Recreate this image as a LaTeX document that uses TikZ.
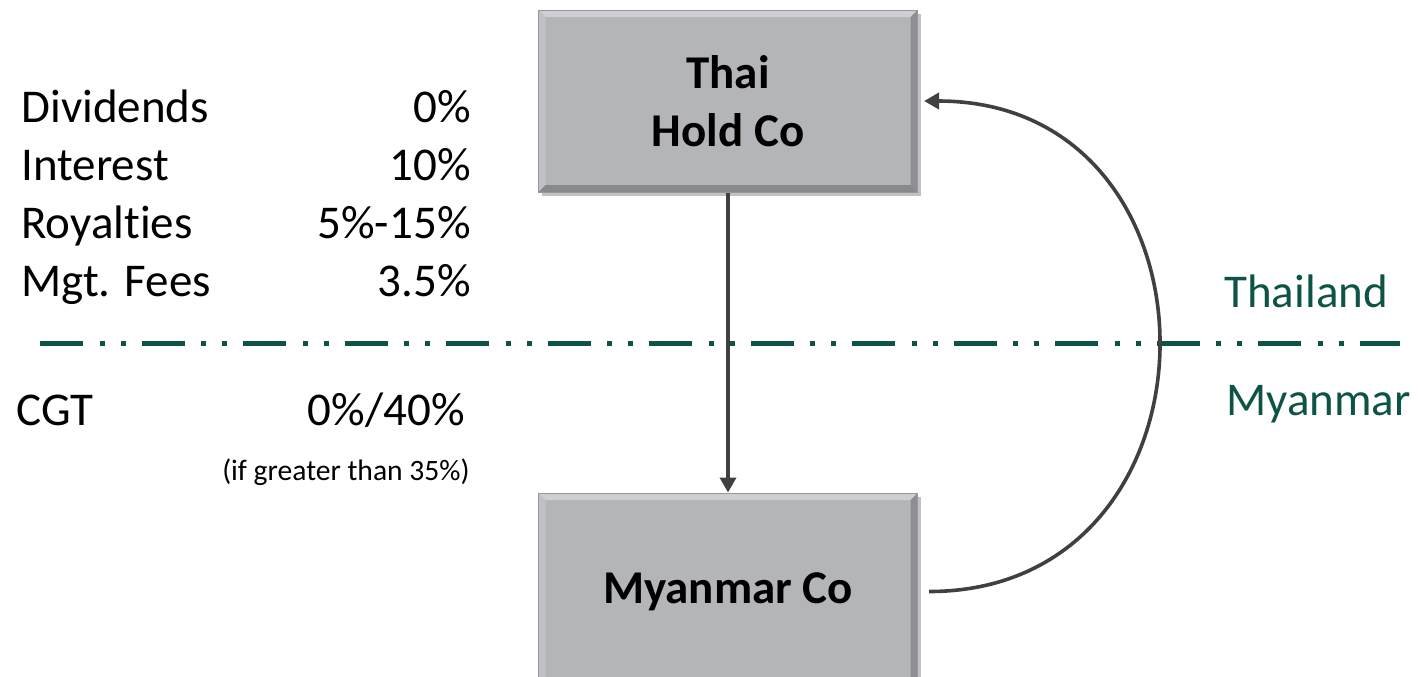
\documentclass[tikz,border=0pt]{standalone}
\usepackage{fontspec}
\setmainfont{Carlito}[Ligatures=CommonOff]
\usetikzlibrary{arrows.meta,calc,shadows}
\definecolor{boxfill}{RGB}{180,181,185}
\definecolor{boxedge}{RGB}{150,151,155}
\definecolor{bevtop}{RGB}{206,207,210}
\definecolor{bevleft}{RGB}{192,193,196}
\definecolor{bevright}{RGB}{142,143,147}
\definecolor{bevbot}{RGB}{136,137,141}
\definecolor{linegray}{RGB}{64,64,64}
\definecolor{bordergreen}{RGB}{13,84,70}
\begin{document}
\begin{tikzpicture}[x=0.5pt,y=-0.5pt,
  bevelbox/.style={minimum width=189.5pt, minimum height=91pt, inner sep=0pt,
    fill=boxfill, draw=boxedge, line width=0.5pt,
    drop shadow={shadow xshift=1.5pt, shadow yshift=-2pt, opacity=0.35, fill=black!70},
    font=\bfseries\fontsize{23.5}{29}\selectfont, align=center,
    path picture={
      \coordinate (nw) at (path picture bounding box.north west);
      \coordinate (ne) at (path picture bounding box.north east);
      \coordinate (sw) at (path picture bounding box.south west);
      \coordinate (se) at (path picture bounding box.south east);
      \fill[bevtop] (nw) -- (ne) -- ($(ne)+(-3.5pt,-3.5pt)$) -- ($(nw)+(3.5pt,-3.5pt)$) -- cycle;
      \fill[bevleft] (nw) -- (sw) -- ($(sw)+(3.5pt,3.5pt)$) -- ($(nw)+(3.5pt,-3.5pt)$) -- cycle;
      \fill[bevright] (ne) -- (se) -- ($(se)+(-3.5pt,3.5pt)$) -- ($(ne)+(-3.5pt,-3.5pt)$) -- cycle;
      \fill[bevbot] (sw) -- (se) -- ($(se)+(-3.5pt,3.5pt)$) -- ($(sw)+(3.5pt,3.5pt)$) -- cycle;
    }},
  conn/.style={draw=linegray, line width=1.8pt, -{Triangle[length=7.5pt,width=8pt]}},
  border/.style={draw=bordergreen, line width=2.5pt, line cap=butt,
    dash pattern=on 21.5pt off 8.25pt on 2.5pt off 8pt on 2.5pt off 8pt},
  lbl/.style={inner sep=0pt, font=\fontsize{23.5}{29}\selectfont},
  small/.style={inner sep=0pt, font=\fontsize{14.8}{18}\selectfont},
  country/.style={inner sep=0pt, font=\fontsize{23.5}{29}\selectfont, text=bordergreen}
]
\useasboundingbox (0,0) rectangle (1418,676);
\clip (0,0) rectangle (1418,676);

% boxes
\node[bevelbox] (thai) at (728,101) {Thai\\Hold Co};
\node[bevelbox, minimum height=98.5pt] (myco) at (728,591.5) {Myanmar Co};

% border line
\coordinate (dl) at (40,343);
\coordinate (dr) at (1400,343);
\draw[border] (dl) -- (dr);

% connectors
\draw[conn] (thai.south) -- (myco.north);
\draw[conn] ([xshift=5.5pt]myco.east) .. controls +(306,0) and +(312,0) .. ([xshift=3pt]thai.east);

% rate table
\node[lbl, anchor=base west] (divl) at (21,122) {Dividends};
\node[lbl, anchor=base west] (intl) at (21,180) {Interest};
\node[lbl, anchor=base west] (royl) at (21,238) {Royalties};
\node[lbl, anchor=base west] (mgtl) at (21,296) {Mgt. Fees};
\node[lbl, anchor=base east] (divr) at (471,122) {0\%};
\node[lbl, anchor=base east] (intr) at (471,180) {10\%};
\node[lbl, anchor=base east] (royr) at (471,238) {5\%-15\%};
\node[lbl, anchor=base east] (mgtr) at (471,296) {3.5\%};
\node[lbl, anchor=base west] (cgtl) at (16,425) {CGT};
\node[lbl, anchor=base east] (cgtr) at (465,425) {0\%/40\%};
\node[small, anchor=base east] (cgtn) at (470,480) {(if greater than 35\%)};

% countries
\node[country, anchor=base west] (thl) at (1224,307) {Thailand};
\node[country, anchor=base west] (myl) at (1226,415) {Myanmar};
\end{tikzpicture}
\end{document}
